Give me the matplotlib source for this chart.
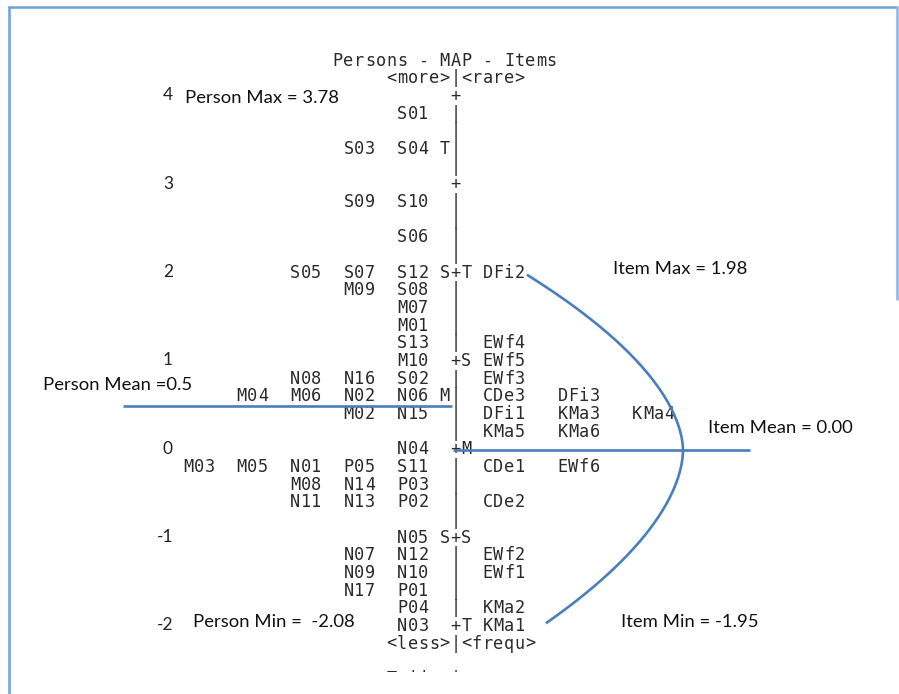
import numpy as np
import matplotlib
matplotlib.use("Agg")
import matplotlib.pyplot as plt
from matplotlib.patches import Rectangle

# ---- data: person and item measures (logits) ----
person_labels = ["S01", "S03", "S04", "S09", "S10", "S06", "S05", "S07", "S12",
                 "M09", "S08", "M07", "M01", "S13", "M10", "N08", "N16", "S02",
                 "M04", "M06", "N02", "N06", "M02", "N15", "N04", "M03", "M05",
                 "N01", "P05", "S11", "M08", "N14", "P03", "N11", "N13", "P02",
                 "N05", "N07", "N12", "N09", "N10", "N17", "P01", "P04", "N03"]
person_measures = [3.78, 3.4, 3.4, 2.8, 2.8, 2.4, 2.0, 2.0, 2.0,
                   1.8, 1.8, 1.6, 1.4, 1.2, 1.0, 0.8, 0.8, 0.8,
                   0.6, 0.6, 0.6, 0.6, 0.4, 0.4, 0.0, -0.2, -0.2,
                   -0.2, -0.2, -0.2, -0.4, -0.4, -0.4, -0.6, -0.6, -0.6,
                   -1.0, -1.2, -1.2, -1.4, -1.4, -1.6, -1.6, -1.8, -2.08]

item_labels = ["DFi2", "EWf4", "EWf5", "EWf3", "CDe3", "DFi3", "DFi1", "KMa3",
               "KMa4", "KMa5", "KMa6", "CDe1", "EWf6", "CDe2", "EWf2", "EWf1",
               "KMa2", "KMa1"]
item_measures = [1.98, 1.2, 1.0, 0.8, 0.6, 0.6, 0.4, 0.4,
                 0.4, 0.2, 0.2, -0.2, -0.2, -0.6, -1.2, -1.4,
                 -1.8, -1.95]

person_mean, person_sd = 0.5, 1.46
item_mean, item_sd = 0.0, 1.0
person_max, person_min = 3.78, -2.08
item_max, item_min = 1.98, -1.95

scale_ticks = [4, 3, 2, 1, 0, -1, -2]

# ---- page geometry (pixels) ----
W, H = 899, 694
BAR_PX = 455.5          # x of the central bar
CELL_PX = 10.7          # width of one character cell
ZERO_PY = 450.3         # y of logit 0
UNIT_PX = 88.33         # pixels per logit
ROWS_PER_UNIT = 5
TEXT_DY = 3.0 / UNIT_PX  # small lift so glyphs sit on the row centre


def col_of_px(px):
    return (px - BAR_PX) / CELL_PX


def logit_of_py(py):
    return (ZERO_PY - py) / UNIT_PX


def row_of(m):
    return int(np.floor(m * ROWS_PER_UNIT + 0.5 + 1e-9))


MONO = dict(family="DejaVu Sans Mono", size=12.2, color="#2a2a2a")
SANS = dict(family="Lato", size=13.3, color="#111111")
BLUE = "#4a7ebb"

fig = plt.figure(figsize=(W / 100, H / 100), dpi=100)
ax = fig.add_axes([0, 0, 1, 1])
ax.set_xlim(col_of_px(0), col_of_px(W))
ax.set_ylim(logit_of_py(H), logit_of_py(0))
ax.axis("off")


def put_string(s, start_col, y):
    """Write a string on the character grid, one glyph per cell."""
    for i, ch in enumerate(s):
        if ch != " ":
            ax.text(start_col + i, y + TEXT_DY, ch, ha="center",
                    va="center_baseline", **MONO)


top_row = row_of(max(scale_ticks))
bottom_row = row_of(min(scale_ticks))


def marker_rows(mean, sd):
    marks = {}
    for k, ch in [(0, "M"), (1, "S"), (-1, "S"), (2, "T"), (-2, "T")]:
        r = row_of(mean + k * sd)
        if bottom_row <= r <= top_row:
            marks[r] = ch
    return marks


p_marks = marker_rows(person_mean, person_sd)
i_marks = marker_rows(item_mean, item_sd)

persons_by_row = {}
for lab, m in zip(person_labels, person_measures):
    persons_by_row.setdefault(row_of(m), []).append(lab)
items_by_row = {}
for lab, m in zip(item_labels, item_measures):
    items_by_row.setdefault(row_of(m), []).append(lab)

dy = 1.0 / ROWS_PER_UNIT
for r in range(top_row, bottom_row - 1, -1):
    y = r * dy
    put_string("+" if r % ROWS_PER_UNIT == 0 else "|", 0, y)
    if r in p_marks:
        put_string(p_marks[r], -1, y)
    if r in i_marks:
        put_string(i_marks[r], 1, y)
    labs = sorted(persons_by_row.get(r, []))
    n = len(labs)
    for k, lab in enumerate(labs):
        put_string(lab, -5 - 5 * (n - 1 - k), y)
    for k, lab in enumerate(sorted(items_by_row.get(r, []))):
        put_string(lab, 3 + 7 * k, y)

# header and footer lines of the map; the next line is cut by the page edge
put_string("Persons - MAP - Items", -11, (top_row + 2) * dy)
put_string("<more>|<rare>", -6, (top_row + 1) * dy)
put_string("<less>|<frequ>", -6, (bottom_row - 1) * dy)
put_string("T ii  |", -6, (bottom_row - 3) * dy)
ax.add_patch(Rectangle((0, 0), 1, (H - 671.5) / H, transform=ax.transAxes,
                       facecolor="white", edgecolor="none", zorder=5))

# logit scale numbers
for t in scale_ticks:
    ax.text(col_of_px(173), t + TEXT_DY * 0.5, str(t), ha="right", va="center",
            family="Lato", size=12.5, color="#222222")

# mean lines
ax.plot([col_of_px(123), col_of_px(452)], [person_mean, person_mean],
        color=BLUE, lw=1.9, solid_capstyle="butt", zorder=3)
ax.plot([col_of_px(453), col_of_px(750)], [item_mean, item_mean],
        color=BLUE, lw=1.9, solid_capstyle="butt", zorder=3)

# arc spanning the item range, widest at the item mean
x_vertex = col_of_px(683)
x_top, x_bot = col_of_px(528), col_of_px(547)
L_up = np.linspace(item_mean, item_max, 80)
L_dn = np.linspace(item_min, item_mean, 80)
x_up = x_vertex - (x_vertex - x_top) * ((L_up - item_mean) / (item_max - item_mean)) ** 1.8
x_dn = x_vertex - (x_vertex - x_bot) * ((item_mean - L_dn) / (item_mean - item_min)) ** 1.8
ax.plot(np.concatenate([x_dn, x_up]), np.concatenate([L_dn, L_up]),
        color=BLUE, lw=1.9, zorder=3)


# annotations
def note(px, py, s):
    ax.text(px / W, 1 - py / H, s, transform=ax.transAxes, ha="left",
            va="center", zorder=6, **SANS)


note(185, 98, f"Person Max = {person_max:.2f}")
note(43, 385, f"Person Mean ={person_mean:g}")
note(193, 622, f"Person Min =  {person_min:.2f}")
note(613, 269, f"Item Max = {item_max:.2f}")
note(708, 428, f"Item Mean = {item_mean:.2f}")
note(621, 622, f"Item Min = {item_min:.2f}")

# page border
fx = lambda px: px / W
fy = lambda py: 1 - py / H
ax.plot([fx(8.5), fx(8.5)], [fy(6), fy(H)], transform=ax.transAxes,
        color="#6f9fdc", lw=1.8, zorder=7, solid_capstyle="butt")
ax.plot([fx(8), fx(897)], [fy(6.5), fy(6.5)], transform=ax.transAxes,
        color="#6f9fdc", lw=1.8, zorder=7, solid_capstyle="butt")
ax.plot([fx(896.5), fx(896.5)], [fy(6), fy(300)], transform=ax.transAxes,
        color="#8fb4e6", lw=1.8, zorder=7, solid_capstyle="butt")

fig.savefig("out.png", dpi=100, facecolor="white")
